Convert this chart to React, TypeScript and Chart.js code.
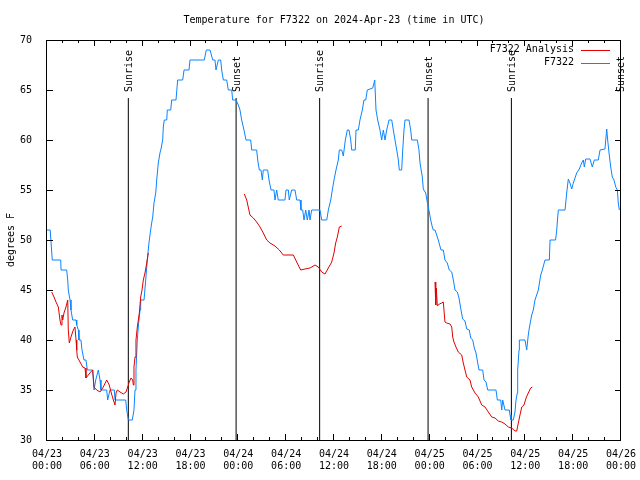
import React, { useEffect, useRef } from "react";
import { Chart, registerables } from "chart.js";

Chart.register(...registerables);

// ---------- data (hours since 2024-04-23 00:00 UTC) ----------
const titleText = "Temperature for F7322 on 2024-Apr-23 (time in UTC)";
const yAxisTitle = "degrees F";
const seriesNames = ["F7322 Analysis", "F7322"];

const xTickHours = [0, 6, 12, 18, 24, 30, 36, 42, 48, 54, 60, 66, 72];
const xTickDates = ["04/23", "04/23", "04/23", "04/23", "04/24", "04/24", "04/24", "04/24", "04/25", "04/25", "04/25", "04/25", "04/26"];
const xTickTimes = ["00:00", "06:00", "12:00", "18:00", "00:00", "06:00", "12:00", "18:00", "00:00", "06:00", "12:00", "18:00", "00:00"];
const yTickValues = [30, 35, 40, 45, 50, 55, 60, 65, 70];

const sunriseHours = [10.2, 34.2, 58.25];
const sunsetHours = [23.72, 47.8, 71.95];
const sunLineTop = 64.2;

const blueHours = [
  0.0, 0.4, 0.66, 1.72, 1.76, 2.47, 2.6, 2.67, 2.89, 3.01, 3.22, 3.64, 3.73, 3.93, 4.01, 4.26, 4.39, 4.64, 4.89, 5.06,
  5.73, 5.9, 6.11, 6.44, 6.65, 6.77, 7.49, 7.61, 7.9, 8.44, 8.53, 9.87, 10.0, 10.2, 10.7, 10.91, 11.04, 11.16, 11.33, 11.45,
  11.67, 11.75, 12.17, 12.38, 12.58, 12.79, 13.0, 13.13, 13.26, 13.42, 13.64, 13.76, 13.96, 14.17, 14.3, 14.51, 14.59, 14.71, 15.02, 15.09,
  15.52, 15.64, 16.18, 16.39, 17.02, 17.19, 17.81, 17.94, 19.73, 19.98, 20.45, 20.79, 21.07, 21.2, 21.49, 21.79, 21.91, 22.12, 22.54, 22.74,
  23.17, 23.29, 23.71, 24.0, 24.21, 24.42, 24.71, 24.96, 25.55, 25.68, 26.3, 26.43, 26.63, 26.84, 27.01, 27.13, 27.68, 27.85, 28.1, 28.47,
  28.6, 28.81, 29.01, 29.85, 29.98, 30.27, 30.39, 30.69, 31.11, 31.32, 31.74, 31.86, 32.07, 32.24, 32.45, 32.65, 32.87, 32.99, 33.2, 34.24,
  34.46, 35.09, 35.29, 35.59, 35.79, 36.0, 36.25, 36.54, 36.67, 36.97, 37.17, 37.42, 37.67, 37.88, 38.1, 38.22, 38.67, 38.76, 39.05, 39.26,
  39.55, 39.76, 39.98, 40.18, 40.86, 41.11, 41.27, 41.48, 41.77, 41.98, 42.19, 42.4, 42.61, 42.9, 43.24, 43.44, 43.65, 43.87, 44.07, 44.19,
  44.49, 44.62, 44.78, 44.91, 45.41, 45.62, 45.75, 46.45, 46.66, 46.79, 47.08, 47.2, 47.5, 47.7, 47.95, 48.13, 48.33, 48.46, 48.67, 49.08,
  49.42, 49.71, 49.92, 50.21, 50.46, 50.77, 50.97, 51.18, 51.47, 51.68, 51.93, 52.14, 52.43, 52.65, 52.97, 53.15, 53.4, 53.6, 53.81, 54.03,
  54.19, 54.65, 54.82, 55.07, 55.28, 56.32, 56.49, 56.91, 57.04, 57.16, 57.45, 57.99, 58.08, 58.2, 58.49, 58.7, 58.83, 58.99, 59.04, 59.21,
  59.25, 59.96, 60.17, 60.37, 60.5, 60.8, 61.0, 61.21, 61.63, 61.93, 62.13, 62.47, 63.01, 63.1, 63.79, 63.94, 64.04, 64.14, 64.98, 65.19,
  65.39, 65.6, 65.82, 66.02, 66.44, 66.77, 67.07, 67.27, 67.4, 67.57, 68.11, 68.4, 68.65, 69.15, 69.37, 69.99, 70.21, 70.33, 70.5, 70.71,
  70.91, 71.12, 71.34, 71.54, 71.66, 71.79,
];
const blueTemps = [
  51, 51, 48, 48, 47, 47, 46, 45, 44, 43, 42, 42, 41.5, 41, 40, 40, 39, 38, 38, 37,
  37, 35, 36, 37, 36, 35, 35, 34, 35, 35, 34, 34, 33, 32, 32, 33, 35, 37, 40, 41.3,
  43, 44, 44, 46, 48, 49.7, 51, 51.7, 52.3, 53.7, 54.7, 56, 57.7, 58.7, 59.1, 60, 61.3, 62, 62, 63,
  63, 64, 64, 66, 66, 67, 67, 68, 68, 69, 69, 68, 68, 67, 68, 68, 67, 66, 66, 65,
  65, 64, 64, 63.5, 63, 62, 61, 60, 60, 59, 59, 58, 57, 57, 56, 57, 57, 56, 55, 55,
  54, 55, 54, 54, 55, 55, 54, 55, 55, 54, 54, 53, 53, 52, 53, 52, 53, 52, 53, 53,
  52, 52, 53, 54, 55, 56, 57, 58, 59, 59, 58.4, 60, 61, 61, 60, 59, 59, 61, 61, 62,
  63, 64, 64, 65, 65.2, 66, 63, 62, 61, 60, 61, 60, 61, 62, 62, 61, 60, 59, 58, 57,
  57, 59, 61, 62, 62, 61, 60, 60, 59, 57.7, 56.3, 55.1, 54.7, 53.8, 52.8, 52, 51.3, 51, 51, 50,
  49, 49, 48, 47.7, 47, 46.8, 46, 45, 44.8, 44.2, 43, 42.1, 41.9, 41.1, 41, 40.2, 40, 39.2, 38.7, 37.7,
  37, 37, 36, 35.8, 35, 35, 34, 34, 33, 34, 33, 33, 32.5, 32, 32, 32.8, 34, 34.7, 37, 39,
  40, 40, 39, 40.5, 41.2, 42.5, 43, 44, 45, 46.5, 47, 48, 48, 50, 50, 51, 52.1, 53, 53, 54.7,
  56.1, 55.7, 55.1, 55.7, 56.7, 57.1, 57.7, 58, 57.3, 58.1, 58.1, 57.3, 58, 58, 59, 59.1, 61.1, 60, 58.7, 57.3,
  56.3, 56, 55.3, 55, 53.7, 53,
];

const redHours = [
  0.59, 0.88, 1.13, 1.42, 1.63, 1.76, 1.88, 1.97, 2.13, 2.38, 2.6, 2.67, 2.8, 3.01, 3.3, 3.51, 3.64, 3.73, 3.8, 4.14,
  4.48, 4.77, 4.89, 5.18, 5.48, 5.73, 5.9, 6.23, 6.65, 7.06, 7.49, 7.81, 8.03, 8.32, 8.53, 8.66, 8.82, 9.16, 9.57, 9.91,
  10.12, 10.32, 10.54, 10.75, 10.83, 10.91, 11.04, 11.16, 11.33, 11.58, 11.75, 11.92, 12.08, 12.29, 12.51, 12.71,
  18.0,
  24.75, 25.05, 25.46, 25.88, 26.3, 26.72, 27.13, 27.56, 27.97, 28.6, 29.14, 29.64, 30.9, 31.32, 31.82, 32.36, 32.99, 33.62, 34.03, 34.46,
  34.87, 35.29, 35.71, 36.0, 36.21, 36.42, 36.67, 36.97,
  42.0,
  48.67, 48.76, 48.83, 48.96, 49.21, 49.51, 49.71, 49.92, 50.14, 50.55, 50.77, 50.89, 51.05, 51.3, 51.59, 52.02, 52.22, 52.43, 52.65, 53.06,
  53.27, 53.69, 54.1, 54.53, 54.94, 55.36, 55.78, 56.2, 56.61, 57.04, 57.45, 57.87, 58.29, 58.7, 58.92, 59.12, 59.33, 59.55, 59.83, 60.09,
  60.37, 60.67, 60.88,
];
const redTemps = [
  44.8, 44.3, 43.8, 43.3, 42, 41.5, 42.5, 42, 42.7, 43.3, 44, 41, 39.7, 40.3, 41, 41.3, 40, 39, 38.3, 37.8,
  37.3, 37.2, 36.2, 36.5, 36.8, 37, 35.3, 35, 34.8, 35.3, 36, 35.5, 34.8, 34, 33.5, 34.7, 35, 34.8, 34.6, 34.8,
  35.3, 35.8, 36.2, 36, 35.5, 37.3, 38.3, 40, 41.3, 42.7, 44.3, 45, 46, 46.7, 47.7, 48.7,
  null,
  54.6, 54, 52.5, 52.2, 51.8, 51.3, 50.7, 50, 49.7, 49.4, 49, 48.5, 48.5, 47.8, 47, 47.1, 47.2, 47.5, 47.3, 46.8,
  46.6, 47.2, 47.8, 48.7, 49.7, 50.3, 51.3, 51.4,
  null,
  45.8, 43.5, 45.2, 43.4, 43.6, 43.7, 43.8, 41.8, 41.7, 41.6, 41.3, 40.3, 39.8, 39.3, 38.8, 38.5, 37.7, 37, 36.3, 36,
  35.3, 34.7, 34.3, 33.5, 33.3, 32.8, 32.3, 32.2, 31.9, 31.8, 31.6, 31.3, 31.2, 30.9, 30.9, 31.7, 32.5, 33.3, 33.5, 34.2,
  34.7, 35.2, 35.3,
];

// ---------- styling ----------
const FONT = "'DejaVu Sans Mono', monospace";
const RED = "#e00000";
const BLUE = "#0a84ff";

function eventLine(hours: number[]) {
  const pts: { x: number; y: number | null }[] = [];
  hours.forEach((h) => {
    pts.push({ x: h, y: 30 });
    pts.push({ x: h, y: sunLineTop });
    pts.push({ x: h, y: null });
  });
  return pts;
}

const overlayPlugin = {
  id: "gnuplotOverlay",
  afterDraw(chart: any) {
    const { ctx, chartArea: a, scales } = chart;
    const xs = scales.x;
    const ys = scales.y;
    ctx.save();
    ctx.strokeStyle = "#000";
    ctx.lineWidth = 1;
    // frame
    ctx.strokeRect(a.left - 0.5, a.top + 0.5, a.right - a.left, a.bottom - a.top);
    // x ticks (every 2 hours, longer at labelled ticks)
    ctx.beginPath();
    for (let h = 0; h <= 72; h += 2) {
      const px = Math.round(xs.getPixelForValue(h)) - 0.5;
      const len = xTickHours.includes(h) ? 6 : 3;
      ctx.moveTo(px, a.bottom);
      ctx.lineTo(px, a.bottom - len);
      ctx.moveTo(px, a.top);
      ctx.lineTo(px, a.top + len);
    }
    // y ticks
    yTickValues.forEach((v) => {
      const py = Math.round(ys.getPixelForValue(v)) + 0.5;
      ctx.moveTo(a.left, py);
      ctx.lineTo(a.left + 6, py);
      ctx.moveTo(a.right, py);
      ctx.lineTo(a.right - 6, py);
    });
    ctx.stroke();

    // sunrise / sunset labels
    ctx.fillStyle = "#000";
    ctx.font = `10px ${FONT}`;
    ctx.textAlign = "left";
    ctx.textBaseline = "middle";
    const labelY = ys.getPixelForValue(sunLineTop) - 6;
    const drawLabel = (h: number, txt: string) => {
      const px = xs.getPixelForValue(h);
      ctx.save();
      ctx.translate(px + 1, labelY);
      ctx.rotate(-Math.PI / 2);
      ctx.fillText(txt, 0, 0);
      ctx.restore();
    };
    sunriseHours.forEach((h) => drawLabel(h, "Sunrise"));
    sunsetHours.forEach((h) => drawLabel(h, "Sunset"));

    // legend (top right, inside plot)
    const colors = [RED, BLUE];
    seriesNames.forEach((name, i) => {
      const ly = a.top + 9.5 + i * 13;
      ctx.fillStyle = "#000";
      ctx.textAlign = "right";
      ctx.fillText(name, a.right - 47, ly);
      ctx.strokeStyle = colors[i];
      ctx.beginPath();
      ctx.moveTo(a.right - 40, Math.round(ly) + 0.5);
      ctx.lineTo(a.right - 11, Math.round(ly) + 0.5);
      ctx.stroke();
    });
    ctx.restore();
  },
};

export default function App() {
  const canvasRef = useRef<HTMLCanvasElement | null>(null);

  useEffect(() => {
    if (!canvasRef.current) return;
    Chart.defaults.font.family = FONT;
    Chart.defaults.font.size = 10;
    Chart.defaults.color = "#000";

    const chart = new Chart(canvasRef.current, {
      type: "line",
      data: {
        datasets: [
          {
            label: seriesNames[0],
            data: redHours.map((h, i) => ({ x: h, y: redTemps[i] })),
            borderColor: RED,
            borderWidth: 1,
            pointRadius: 0,
            tension: 0,
            spanGaps: false,
          },
          {
            label: seriesNames[1],
            data: blueHours.map((h, i) => ({ x: h, y: blueTemps[i] })),
            borderColor: BLUE,
            borderWidth: 1,
            pointRadius: 0,
            tension: 0,
          },
          {
            label: "Sunrise",
            data: eventLine(sunriseHours),
            borderColor: "#000",
            borderWidth: 1,
            pointRadius: 0,
            spanGaps: false,
          },
          {
            label: "Sunset",
            data: eventLine(sunsetHours),
            borderColor: "#000",
            borderWidth: 1,
            pointRadius: 0,
            spanGaps: false,
          },
        ],
      } as any,
      options: {
        responsive: false,
        animation: false,
        devicePixelRatio: 1,
        layout: { autoPadding: false, padding: { top: 0, right: 19, left: 0, bottom: 0 } },
        plugins: {
          legend: { display: false },
          tooltip: { enabled: false },
          title: {
            display: true,
            text: titleText,
            fullSize: false,
            color: "#000",
            font: { family: FONT, size: 10, weight: "normal", lineHeight: 1.2 },
            padding: { top: 14, bottom: 14 },
          },
        },
        scales: {
          x: {
            type: "linear",
            min: 0,
            max: 72,
            afterFit: (s: any) => {
              s.height = 40;
              s.paddingLeft = 0;
              s.paddingRight = 0;
            },
            afterBuildTicks: (s: any) => {
              s.ticks = xTickHours.map((v) => ({ value: v }));
            },
            grid: { display: false, drawTicks: false },
            border: { display: false },
            ticks: {
              autoSkip: false,
              maxRotation: 0,
              minRotation: 0,
              padding: 9,
              font: { family: FONT, size: 10, lineHeight: 1.17 },
              color: "#000",
              callback: (v: any) => {
                const i = xTickHours.indexOf(Number(v));
                return i >= 0 ? [xTickDates[i], xTickTimes[i]] : "";
              },
            },
          },
          y: {
            type: "linear",
            min: 30,
            max: 70,
            afterFit: (s: any) => {
              s.width = 47;
              s.paddingTop = 0;
              s.paddingBottom = 0;
            },
            afterBuildTicks: (s: any) => {
              s.ticks = yTickValues.map((v) => ({ value: v }));
            },
            grid: { display: false, drawTicks: false },
            border: { display: false },
            ticks: {
              padding: 15,
              font: { family: FONT, size: 10 },
              color: "#000",
            },
            title: {
              display: true,
              text: yAxisTitle,
              color: "#000",
              font: { family: FONT, size: 10, weight: "normal" },
              padding: { top: 5, bottom: 0 },
            },
          },
        },
      } as any,
      plugins: [overlayPlugin],
    });
    return () => chart.destroy();
  }, []);

  return (
    <div style={{ position: "absolute", left: 0, top: 0, width: 640, height: 480, background: "#fff" }}>
      <canvas ref={canvasRef} width={640} height={480} style={{ display: "block", width: 640, height: 480 }} />
    </div>
  );
}
